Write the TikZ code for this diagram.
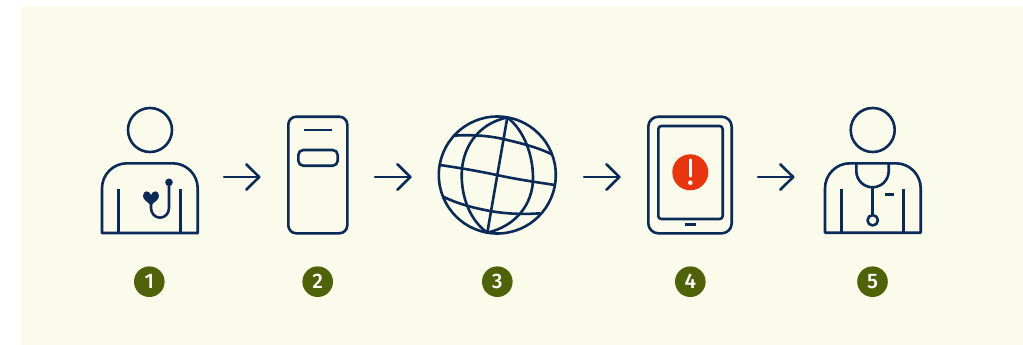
\documentclass[tikz,border=0pt]{standalone}
\usepackage{fontspec}
\setmainfont{Fira Sans}
\newfontfamily\digitfont{Fira Sans Medium}
\usetikzlibrary{arrows.meta}
\definecolor{navy}{HTML}{0A2A57}
\definecolor{panel}{HTML}{FAFBEB}
\definecolor{olive}{HTML}{4F6207}
\definecolor{alert}{HTML}{E83510}
\tikzset{
  icon/.style={draw=navy,line width=2.6pt,line join=round},
  flow/.style={draw=navy,line width=2.6pt,line cap=round,-{Straight Barb[round,length=13pt,width=25.5pt]}},
  badge/.style={circle,fill=olive,text=white,minimum size=30.6pt,inner sep=0pt,font=\digitfont\fontsize{21}{21}\selectfont},
  head/.style={circle,draw=navy,line width=2.6pt,minimum size=44pt,inner sep=0pt}
}
\begin{document}
\begin{tikzpicture}[x=1pt,y=-1pt]
\useasboundingbox (0,0) rectangle (1023,345);
\fill[white] (0,0) rectangle (1023,345);
\fill[panel] (21,6) rectangle (1023,345);

% patient
\node[head] (h1) at (150,130) {};
\path[icon] (102,233) [rounded corners=25pt] -- (102,163.3) -- (197.7,163.3) [sharp corners] -- (197.7,233) -- cycle;
\draw[icon] (118.7,189) -- (118.7,233) (180.7,189) -- (180.7,233);
\fill[navy] (151,195) .. controls (149.5,190) and (143,190) .. (143,196) .. controls (143,200) and (148,202) .. (151,205.5) .. controls (154,202) and (159,200) .. (159,196) .. controls (159,190) and (152.5,190) .. (151,195) -- cycle;
\draw[icon] (151,203) -- (151,208) arc[start angle=180,end angle=0,x radius=9,y radius=9.7] -- (169,182);
\fill[navy] (169,182.3) circle[radius=3.8];

% phone
\path[icon,rounded corners=8pt] (288.3,116.7) rectangle (347.3,233.3);
\draw[icon] (304,130) -- (331.7,130);
\path[icon,rounded corners=5pt] (298.3,150) rectangle (337.7,165.7);

% globe
\draw[icon] (497.3,175) circle[radius=58.5];
\draw[icon] (507.3,117.5) -- (487.3,232.7);
\draw[icon] (507.3,117.5) .. controls (476,124) and (461.7,150) .. (461.7,175) .. controls (461.7,198) and (470,220) .. (487.3,232.7);
\draw[icon] (507.3,117.5) .. controls (524,130) and (533,155) .. (533,178) .. controls (533,204) and (516,226) .. (487.3,232.7);
\draw[icon] (453.3,135.7) .. controls (470,134.5) and (488,135.5) .. (503,139) .. controls (520,143) and (537,147) .. (551.7,154.3);
\draw[icon] (440,165) .. controls (460,168) and (478,171) .. (496.7,175) .. controls (515,179) and (535,182) .. (555,185);
\draw[icon] (443.3,196.7) .. controls (458,204) and (474,208) .. (490,211) .. controls (507,214) and (524,214.5) .. (540,213.3);

% tablet
\path[icon,rounded corners=10pt] (648.3,116.7) rectangle (731.7,233.3);
\path[icon,rounded corners=3pt] (658.3,126) rectangle (722.7,219);
\draw[icon] (685.3,224.3) -- (695.7,224.3);
\fill[alert] (690.3,172.3) circle[radius=18];
\draw[white,line width=3.4pt,line cap=round] (690.3,160) -- (690.3,176);
\fill[white] (690.3,182.7) circle[radius=2.3];

% clinician
\node[head] (h5) at (872.7,130) {};
\path[icon] (825,232.7) [rounded corners=25pt] -- (825,163.3) -- (920.7,163.3) [sharp corners] -- (920.7,232.7) -- cycle;
\draw[icon] (841.3,189.3) -- (841.3,232.7) (903.3,189.3) -- (903.3,232.7);
\draw[icon] (856.3,163.3) -- (856.3,171) arc[start angle=180,end angle=360,x radius=16.2,y radius=-16.3] -- (888.7,163.3);
\draw[icon] (872.7,187.3) -- (872.7,215);
\draw[icon] (872.7,220.3) circle[radius=5.2];
\draw[icon] (885,194.3) -- (894.3,194.3);

% connectors
\coordinate (a1s) at (224,177); \coordinate (a1e) at (260.5,177);
\coordinate (a2s) at (375,177); \coordinate (a2e) at (411.7,177);
\coordinate (a3s) at (584,177); \coordinate (a3e) at (620.7,177);
\coordinate (a4s) at (758,177); \coordinate (a4e) at (794.5,177);
\draw[flow] (a1s) -- (a1e);
\draw[flow] (a2s) -- (a2e);
\draw[flow] (a3s) -- (a3e);
\draw[flow] (a4s) -- (a4e);

% numbers
\node[badge] (n1) at (149.3,281.7) {1};
\node[badge] (n2) at (317.7,281.7) {2};
\node[badge] (n3) at (497.3,281.7) {3};
\node[badge] (n4) at (690.3,281.7) {4};
\node[badge] (n5) at (872.5,281.7) {5};
\end{tikzpicture}
\end{document}
